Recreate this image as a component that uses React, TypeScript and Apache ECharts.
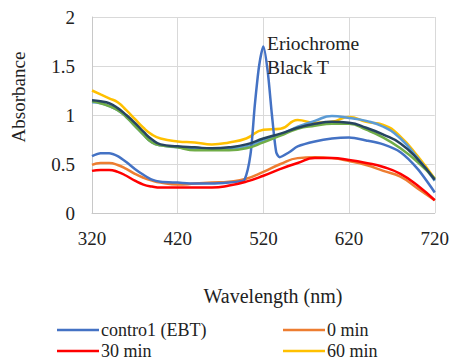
import React, { useEffect, useRef } from "react";
import * as echarts from "echarts";

const wavelengths = [320, 330, 340, 350, 360, 370, 380, 390, 400, 420, 440, 460, 480, 500, 520, 540, 560, 580, 600, 620, 640, 660, 680, 700, 720];

const controlWavelengths = [320, 330, 340, 350, 360, 370, 380, 390, 400, 420, 440, 460, 480, 490, 498, 505, 510, 515, 520, 525, 530, 535, 539, 550, 560, 580, 600, 620, 640, 660, 680, 700, 720];
const controlEBT = [0.58, 0.61, 0.61, 0.58, 0.52, 0.45, 0.39, 0.34, 0.32, 0.31, 0.30, 0.30, 0.31, 0.32, 0.34, 0.6, 1.1, 1.5, 1.70, 1.45, 1.0, 0.62, 0.57, 0.62, 0.68, 0.73, 0.76, 0.77, 0.74, 0.70, 0.62, 0.45, 0.21];

const min0 = [0.49, 0.51, 0.51, 0.49, 0.45, 0.40, 0.36, 0.33, 0.31, 0.29, 0.30, 0.31, 0.32, 0.35, 0.42, 0.50, 0.56, 0.57, 0.56, 0.53, 0.49, 0.43, 0.37, 0.25, 0.13];
const min30 = [0.43, 0.44, 0.44, 0.42, 0.38, 0.33, 0.29, 0.27, 0.26, 0.26, 0.26, 0.26, 0.28, 0.32, 0.38, 0.45, 0.51, 0.56, 0.56, 0.54, 0.51, 0.47, 0.40, 0.28, 0.13];
const min60 = [1.25, 1.21, 1.17, 1.13, 1.05, 0.96, 0.87, 0.80, 0.76, 0.73, 0.72, 0.70, 0.72, 0.76, 0.85, 0.86, 0.95, 0.92, 0.93, 0.98, 0.93, 0.90, 0.78, 0.58, 0.35];
const seriesLightBlue = [1.13, 1.12, 1.09, 1.05, 0.98, 0.89, 0.80, 0.72, 0.69, 0.67, 0.65, 0.65, 0.66, 0.68, 0.74, 0.80, 0.88, 0.94, 0.99, 0.97, 0.94, 0.88, 0.76, 0.56, 0.33];
const seriesGreen = [1.14, 1.12, 1.09, 1.05, 0.98, 0.89, 0.80, 0.72, 0.69, 0.67, 0.64, 0.64, 0.64, 0.66, 0.72, 0.79, 0.86, 0.89, 0.91, 0.91, 0.85, 0.77, 0.66, 0.52, 0.35];
const seriesDark = [1.15, 1.14, 1.12, 1.07, 1.00, 0.92, 0.83, 0.75, 0.70, 0.68, 0.67, 0.66, 0.67, 0.70, 0.76, 0.81, 0.87, 0.91, 0.93, 0.92, 0.87, 0.80, 0.71, 0.55, 0.34];

const yTicks = { min: 0, max: 2, interval: 0.5 };
const xTicks = { min: 320, max: 720, interval: 100 };

const FONT = "Liberation Serif";

function pairs(xs: number[], ys: number[]) {
  return xs.map((x, i) => [x, ys[i]]);
}

export default function App() {
  const ref = useRef<HTMLDivElement>(null);
  useEffect(() => {
    if (!ref.current) return;
    const chart = echarts.init(ref.current, undefined, { renderer: "svg" });
    const line = (name: string, data: number[][], color: string, z = 2, smooth: number = 0.5) => ({
      name,
      type: "line",
      data,
      smooth,
      showSymbol: false,
      symbol: "none",
      z,
      lineStyle: { color, width: 2.5 },
      itemStyle: { color },
    });
    const legendItem = (name: string, left: number, top: number) => ({
      data: [name],
      left,
      top,
      icon: "rect",
      itemWidth: 42,
      itemHeight: 2.5,
      itemGap: 2,
      textStyle: { fontFamily: FONT, fontSize: 18, color: "#222", padding: [0, 0, 0, -3] },
      padding: 0,
    });
    chart.setOption({
      animation: false,
      backgroundColor: "#fff",
      grid: { left: 92, right: 17, top: 17, bottom: 147, containLabel: false },
      xAxis: {
        type: "value",
        ...xTicks,
        axisLine: { show: true, lineStyle: { color: "#c8c8c8" } },
        axisTick: { show: false },
        splitLine: { show: true, lineStyle: { color: "#d9d9d9" } },
        axisLabel: { fontFamily: FONT, fontSize: 19, color: "#222", margin: 16 },
      },
      yAxis: {
        type: "value",
        ...yTicks,
        axisLine: { show: true, lineStyle: { color: "#c8c8c8" } },
        axisTick: { show: false },
        splitLine: { show: true, lineStyle: { color: "#d9d9d9" } },
        axisLabel: { fontFamily: FONT, fontSize: 19, color: "#222", margin: 17 },
      },
      legend: [
        legendItem("contro1 (EBT)", 57, 321),
        legendItem("0 min", 283, 321),
        legendItem("30 min", 57, 342),
        legendItem("60 min", 283, 342),
      ],
      graphic: [
        {
          type: "text",
          x: 18,
          y: 97,
          rotation: Math.PI / 2,
          style: { text: "Absorbance", fontFamily: FONT, fontSize: 19, fill: "#222", align: "center", verticalAlign: "middle" },
        },
        {
          type: "text",
          x: 273,
          y: 296,
          style: { text: "Wavelength (nm)", fontFamily: FONT, fontSize: 20, fill: "#222", align: "center", verticalAlign: "middle" },
        },
        {
          type: "text",
          x: 267,
          y: 31,
          z: 10,
          style: { text: "Eriochrome\nBlack T", fontFamily: FONT, fontSize: 19.5, lineHeight: 24, fill: "#222", align: "left", verticalAlign: "top" },
        },
      ],
      series: [
        line("60 min", pairs(wavelengths, min60), "#FFC000", 2),
        line("90 min", pairs(wavelengths, seriesLightBlue), "#5B9BD5", 3),
        line("120 min", pairs(wavelengths, seriesGreen), "#70AD47", 4),
        line("150 min", pairs(wavelengths, seriesDark), "#264460", 5),
        line("0 min", pairs(wavelengths, min0), "#ED7D31", 2),
        line("contro1 (EBT)", pairs(controlWavelengths, controlEBT), "#4472C4", 3, 0.25),
        line("30 min", pairs(wavelengths, min30), "#FF0000", 4),
      ],
    });
    return () => chart.dispose();
  }, []);
  return <div ref={ref} style={{ width: 452, height: 360, position: "absolute", left: 0, top: 0 }} />;
}
